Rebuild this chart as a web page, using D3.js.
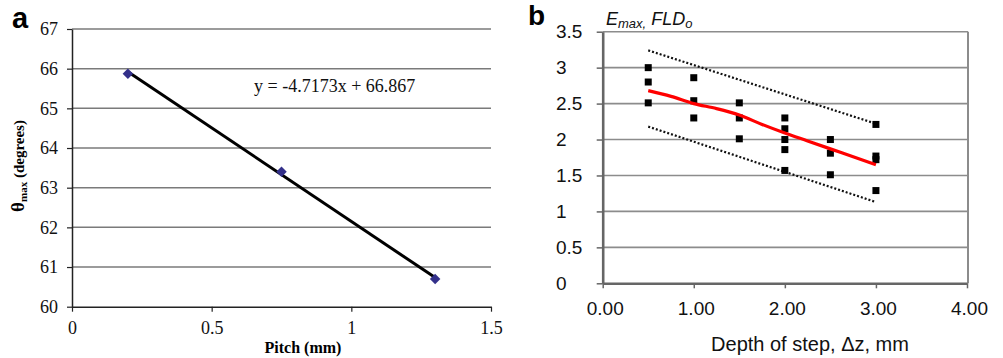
<!DOCTYPE html>
<html>
<head>
<meta charset="utf-8">
<script src="https://cdnjs.cloudflare.com/ajax/libs/d3/7.8.5/d3.min.js"></script>
<style>
  body { margin: 0; background: #fff; }
  svg { display: block; }
</style>
</head>
<body>
<script>
// ---------------- panel a data ----------------
var pitch = [0.2, 0.75, 1.3];
var thetaMax = [65.87, 63.4, 60.7];
var fitA = { slope: -4.7173, intercept: 66.867 };
var xTicksA = [0, 0.5, 1, 1.5];
var yTicksA = [60, 61, 62, 63, 64, 65, 66, 67];

// ---------------- panel b data ----------------
var depthX = [0.5, 0.5, 0.5, 1.0, 1.0, 1.0, 1.5, 1.5, 1.5, 2.0, 2.0, 2.0, 2.0, 2.0, 2.5, 2.5, 2.5, 3.0, 3.0, 3.0, 3.0];
var emaxY = [3.0, 2.8, 2.51, 2.86, 2.54, 2.3, 2.51, 2.3, 2.01, 2.3, 2.15, 2.0, 1.86, 1.57, 2.0, 1.81, 1.51, 2.21, 1.77, 1.72, 1.29];
var meanX = [0.5, 0.75, 1.0, 1.25, 1.5, 1.75, 2.0, 2.25, 2.5, 2.75, 3.0];
var meanY = [2.68, 2.6, 2.5, 2.43, 2.34, 2.21, 2.09, 1.98, 1.87, 1.76, 1.65];
var upperX = [0.5, 3.0], upperY = [3.24, 2.22];
var lowerX = [0.5, 3.0], lowerY = [2.18, 1.13];
var xTicksB = [0, 1, 2, 3, 4];
var yTicksB = [0, 0.5, 1, 1.5, 2, 2.5, 3, 3.5];

var width = 1003, height = 358;
var serif = "'Liberation Serif', 'Times New Roman', serif";
var sans = "'Liberation Sans', Arial, sans-serif";

var svg = d3.select("body").append("svg")
  .attr("width", width)
  .attr("height", height);

//---------------------------------------- panel a ----------------------------------------//
var xA = d3.scaleLinear().domain([0, 1.5]).range([72, 491]);
var yA = d3.scaleLinear().domain([60, 67]).range([306.7, 29]);

var gA = svg.append("g");

// grid lines
gA.selectAll("line.grid")
  .data(yTicksA.slice(1))
  .enter().append("line")
  .attr("class", "grid")
  .attr("x1", xA(0)).attr("x2", xA(1.5))
  .attr("y1", function (d) { return yA(d); })
  .attr("y2", function (d) { return yA(d); })
  .attr("stroke", "#7a7a7a")
  .attr("stroke-width", 1.5);

var axYA = gA.append("g")
  .attr("transform", "translate(" + xA(0) + ",0)")
  .call(d3.axisLeft(yA).tickValues(yTicksA).tickSize(5).tickSizeOuter(0).tickPadding(9)
    .tickFormat(d3.format("")));
var axXA = gA.append("g")
  .attr("transform", "translate(0," + yA(60) + ")")
  .call(d3.axisBottom(xA).tickValues(xTicksA).tickSize(5).tickSizeOuter(0).tickPadding(10)
    .tickFormat(d3.format("")));

[axYA, axXA].forEach(function (ax) {
  ax.select(".domain").attr("stroke", "#222").attr("stroke-width", 1.5);
  ax.selectAll(".tick line").attr("stroke", "#222").attr("stroke-width", 1.2);
  ax.selectAll("text").attr("font-family", serif).attr("font-size", 18).attr("fill", "#111");
});

// regression line
gA.append("line")
  .attr("x1", xA(pitch[0])).attr("y1", yA(fitA.slope * pitch[0] + fitA.intercept))
  .attr("x2", xA(pitch[2])).attr("y2", yA(fitA.slope * pitch[2] + fitA.intercept))
  .attr("stroke", "#000")
  .attr("stroke-width", 3);

// data points (diamonds)
gA.selectAll("path.pt")
  .data(pitch)
  .enter().append("path")
  .attr("class", "pt")
  .attr("d", d3.symbol().type(d3.symbolDiamond2).size(70))
  .attr("transform", function (d, i) {
    return "translate(" + xA(d) + "," + yA(thetaMax[i]) + ")";
  })
  .attr("fill", "#33308a");

gA.append("text")
  .attr("x", 254).attr("y", 92)
  .attr("font-family", serif).attr("font-size", 18)
  .attr("fill", "#111")
  .text("y = -4.7173x + 66.867");

gA.append("text")
  .attr("x", 303).attr("y", 353)
  .attr("text-anchor", "middle")
  .attr("font-family", serif).attr("font-size", 16).attr("font-weight", "bold")
  .text("Pitch (mm)");

var yLab = gA.append("text")
  .attr("transform", "translate(24,166) rotate(-90)")
  .attr("text-anchor", "middle")
  .attr("font-family", serif).attr("font-weight", "bold").attr("font-size", 15);
yLab.append("tspan").attr("font-size", 19).text("θ");
yLab.append("tspan").attr("font-size", 11).attr("dy", 3).text("max");
yLab.append("tspan").attr("dy", -3).text(" (degrees)");

svg.append("text")
  .attr("x", 12).attr("y", 28)
  .attr("font-family", sans).attr("font-weight", "bold").attr("font-size", 29)
  .text("a");

//---------------------------------------- panel b ----------------------------------------//
var xB = d3.scaleLinear().domain([0, 4]).range([602.7, 967]);
var yB = d3.scaleLinear().domain([0, 3.5]).range([283.3, 31.7]);

var gB = svg.append("g");

// grid lines (incl. top border)
gB.selectAll("line.grid")
  .data(yTicksB.slice(1))
  .enter().append("line")
  .attr("class", "grid")
  .attr("x1", xB(0)).attr("x2", 968)
  .attr("y1", function (d) { return yB(d); })
  .attr("y2", function (d) { return yB(d); })
  .attr("stroke", "#8c8c8c")
  .attr("stroke-width", 1.6);

// right border
gB.append("line")
  .attr("x1", 968).attr("x2", 968)
  .attr("y1", yB(3.5)).attr("y2", yB(0))
  .attr("stroke", "#8c8c8c")
  .attr("stroke-width", 2);

var axYB = gB.append("g")
  .attr("transform", "translate(" + xB(0) + ",0)")
  .call(d3.axisLeft(yB).tickValues(yTicksB).tickSize(6).tickSizeOuter(0)
    .tickFormat(d3.format("")));
axYB.selectAll("text")
  .attr("x", 556 - xB(0))
  .attr("text-anchor", "start");

var axXB = gB.append("g")
  .attr("transform", "translate(0," + yB(0) + ")")
  .call(d3.axisBottom(xB).tickValues(xTicksB).tickSize(5).tickSizeOuter(0).tickPadding(13)
    .tickFormat(d3.format(".2f")));
axXB.selectAll("text").attr("dx", 2);

[axYB, axXB].forEach(function (ax) {
  ax.select(".domain").attr("stroke", "#666").attr("stroke-width", 2.6);
  ax.selectAll(".tick line").attr("stroke", "#666").attr("stroke-width", 1.5);
  ax.selectAll("text").attr("font-family", sans).attr("font-size", 19).attr("fill", "#111");
});

// bounds (dotted)
[[upperX, upperY], [lowerX, lowerY]].forEach(function (s) {
  gB.append("path")
    .datum(s[0].map(function (x, i) { return [x, s[1][i]]; }))
    .attr("d", d3.line()
      .x(function (d) { return xB(d[0]); })
      .y(function (d) { return yB(d[1]); }))
    .attr("fill", "none")
    .attr("stroke", "#111")
    .attr("stroke-width", 2.2)
    .attr("stroke-dasharray", "2,2");
});

// data points (squares)
gB.selectAll("rect.pt")
  .data(depthX)
  .enter().append("rect")
  .attr("class", "pt")
  .attr("x", function (d) { return xB(d) - 3.5; })
  .attr("y", function (d, i) { return yB(emaxY[i]) - 3.5; })
  .attr("width", 7).attr("height", 7)
  .attr("fill", "#000");

// mean curve
gB.append("path")
  .datum(meanX.map(function (x, i) { return [x, meanY[i]]; }))
  .attr("d", d3.line()
    .curve(d3.curveMonotoneX)
    .x(function (d) { return xB(d[0]); })
    .y(function (d) { return yB(d[1]); }))
  .attr("fill", "none")
  .attr("stroke", "#ff0000")
  .attr("stroke-width", 3.2);

var tB = gB.append("text")
  .attr("x", 606).attr("y", 25)
  .attr("font-family", sans).attr("font-style", "italic").attr("font-size", 18)
  .attr("fill", "#111");
tB.append("tspan").text("E");
tB.append("tspan").attr("font-size", 13).attr("dy", 3).text("max,");
tB.append("tspan").attr("dy", -3).text(" FLD");
tB.append("tspan").attr("font-size", 13).attr("dy", 3).text("o");

gB.append("text")
  .attr("x", 810).attr("y", 351)
  .attr("text-anchor", "middle")
  .attr("font-family", sans).attr("font-size", 20)
  .attr("fill", "#111")
  .text("Depth of step, Δz, mm");

svg.append("text")
  .attr("x", 528).attr("y", 25)
  .attr("font-family", sans).attr("font-weight", "bold").attr("font-size", 28)
  .text("b");
</script>
</body>
</html>
